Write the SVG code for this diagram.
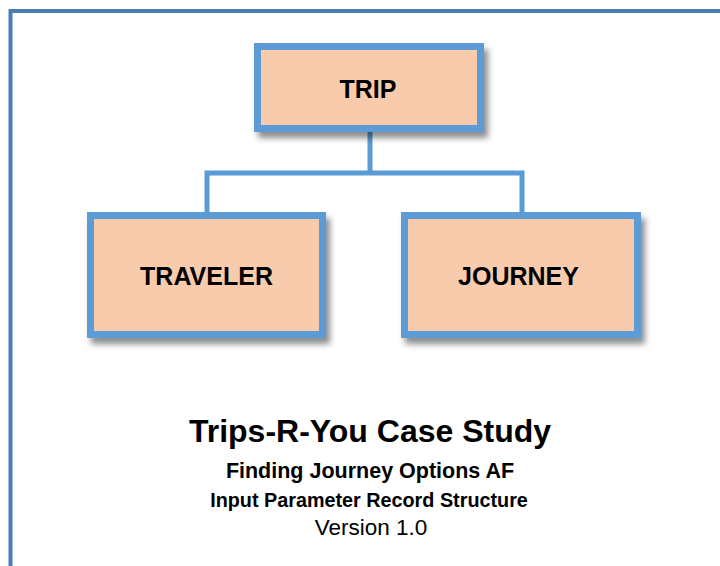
<svg xmlns="http://www.w3.org/2000/svg" width="720" height="566" viewBox="0 0 720 566">
  <defs>
    <filter id="shadow" x="-10%" y="-10%" width="130%" height="140%">
      <feDropShadow dx="4" dy="6" stdDeviation="3" flood-color="#000" flood-opacity="0.45"/>
    </filter>
  </defs>
  <style>
    .box { fill: #F8CBAD; stroke: #5B9BD5; stroke-width: 7; }
    .lbl { font-family: "Liberation Sans", Arial, sans-serif; font-weight: bold; font-size: 25px; fill: #000; text-anchor: middle; }
    .conn { fill: none; stroke: #5B9BD5; stroke-width: 5; }
    .t { font-family: "Liberation Sans", Arial, sans-serif; fill: #000; text-anchor: middle; }
  </style>
  <rect x="0" y="0" width="720" height="566" fill="#fff"/>
  <rect id="frame" x="10.5" y="11" width="800" height="700" fill="none" stroke="#4A7DB5" stroke-width="4"/>
  <g id="connectors">
    <polyline class="conn" points="370,132 370,173"/>
    <polyline class="conn" points="207,212 207,173 522,173 522,212"/>
  </g>
  <g id="trip">
    <rect class="box" x="257.5" y="46.5" width="223" height="82" filter="url(#shadow)"/>
    <text class="lbl" x="368" y="98">TRIP</text>
  </g>
  <g id="traveler">
    <rect class="box" x="90.5" y="215.5" width="232" height="119" filter="url(#shadow)"/>
    <text class="lbl" x="206.5" y="285">TRAVELER</text>
  </g>
  <g id="journey">
    <rect class="box" x="404.5" y="215.5" width="233" height="119" filter="url(#shadow)"/>
    <text class="lbl" x="518.5" y="285">JOURNEY</text>
  </g>
  <g id="caption">
    <text class="t" x="370" y="442" font-size="32" font-weight="bold">Trips-R-You Case Study</text>
    <text class="t" x="370" y="478" font-size="21.5" font-weight="bold">Finding Journey Options AF</text>
    <text class="t" x="369" y="507" font-size="19.8" font-weight="bold">Input Parameter Record Structure</text>
    <text class="t" x="371" y="535" font-size="22.5">Version 1.0</text>
  </g>
</svg>
